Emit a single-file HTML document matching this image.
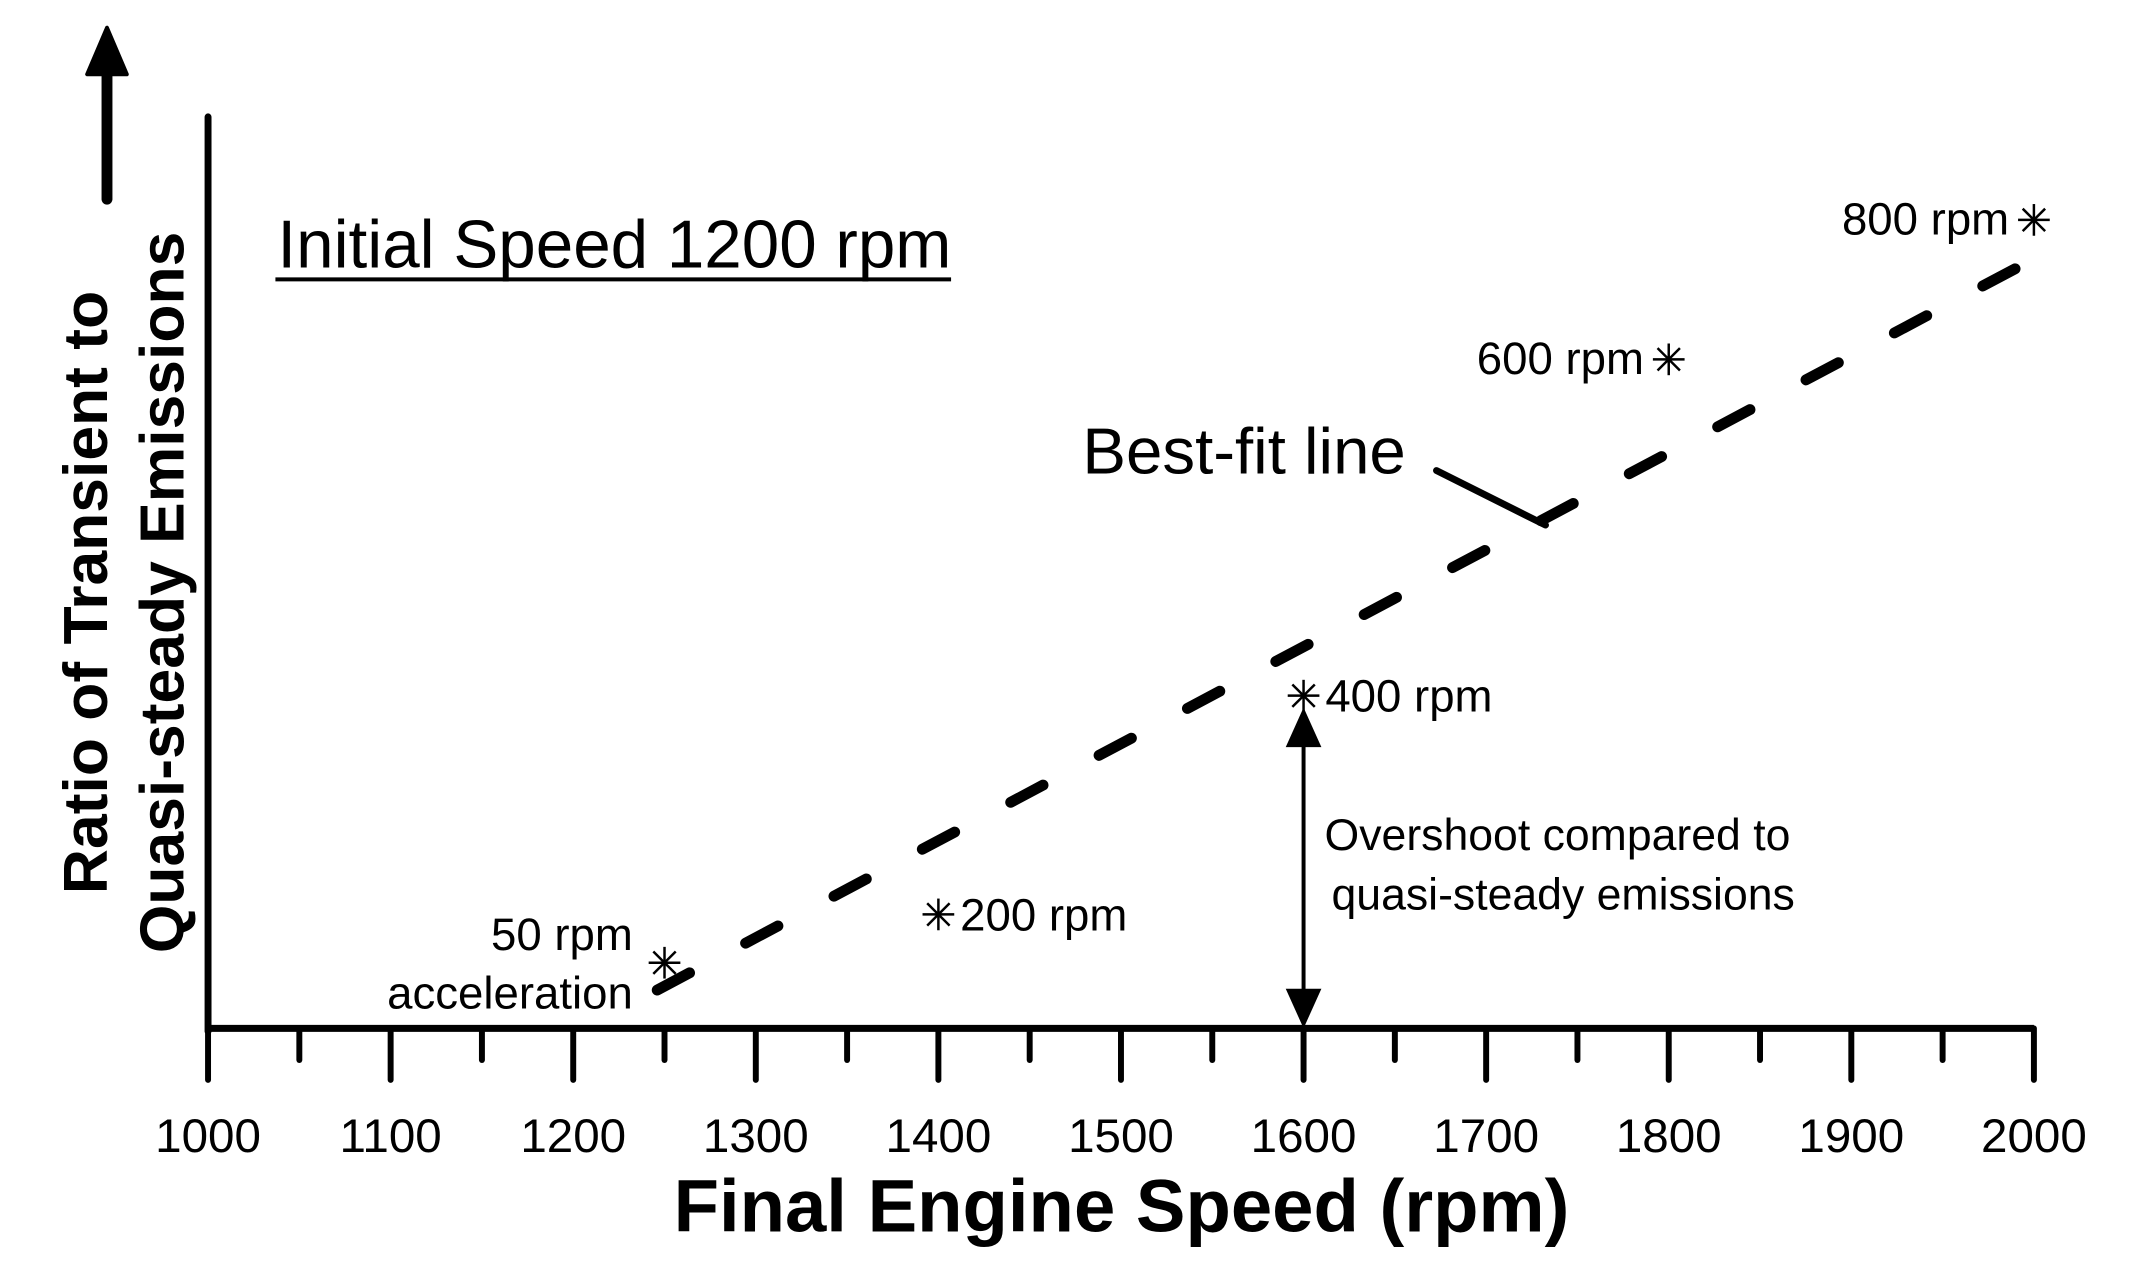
<!DOCTYPE html>
<html><head><meta charset="utf-8"><style>
html,body{margin:0;padding:0;background:#fff;}
svg{display:block;font-family:"Liberation Sans",Arial,sans-serif;}
</style></head><body>
<svg id="chart" width="2150" height="1282" viewBox="0 0 2150 1282" xmlns="http://www.w3.org/2000/svg">
<g transform="scale(0.9907)">
<g id="axes"></g>
<g id="marks"></g>
<g id="annots">
  <text x="280" y="270" font-size="68">Initial Speed 1200 rpm</text>
  <line x1="278" y1="282" x2="960" y2="282" stroke="#000" stroke-width="4"/>
  <line x1="108" y1="201" x2="108" y2="60" stroke="#000" stroke-width="11" stroke-linecap="round"/>
  <polygon points="108,28 88,75 128,75" fill="#000" stroke="#000" stroke-width="4" stroke-linejoin="round"/>
  <text transform="translate(108,598) rotate(-90)" text-anchor="middle" font-size="63" font-weight="bold">Ratio of Transient to</text>
  <text transform="translate(185,598) rotate(-90)" text-anchor="middle" font-size="63" font-weight="bold">Quasi-steady Emissions</text>
  <text x="1132" y="1243" text-anchor="middle" font-size="75" font-weight="bold">Final Engine Speed (rpm)</text>
  <text x="1419" y="478" text-anchor="end" font-size="66">Best-fit line</text>
  <line x1="1450" y1="475" x2="1560" y2="530" stroke="#000" stroke-width="7" stroke-linecap="round"/>
  <text x="1337" y="858" font-size="45">Overshoot compared to</text>
  <text x="1344" y="918" font-size="45">quasi-steady emissions</text>
</g>
</g>
<script>
const xTicks=[1000,1100,1200,1300,1400,1500,1600,1700,1800,1900,2000];
const minorTicks=[1050,1150,1250,1350,1450,1550,1650,1750,1850,1950];
const pointX=[1250,1400,1600,1800,2000];
const pointY=[0.72,1.25,3.65,7.34,8.87];
const pointLabels=["50 rpm","200 rpm","400 rpm","600 rpm","800 rpm"];
const fitX=[1246,1995];
const fitY=[0.42,8.39];
const overshootX=[1600];

const NS="http://www.w3.org/2000/svg";
const X0=210,X1=2053,Y0=1038,YT=118;
const xs=v=>X0+(v-1000)/1000*(X1-X0);
const ys=v=>Y0-v*92;
function mk(tag,attrs,parent){const e=document.createElementNS(NS,tag);for(const k in attrs)e.setAttribute(k,attrs[k]);parent.appendChild(e);return e;}
const axes=document.getElementById('axes'),marks=document.getElementById('marks');

let e=mk('line',{x1:X0,y1:YT,x2:X0,y2:Y0+3,stroke:'#000','stroke-width':7,'stroke-linecap':'round'},axes);


e=mk('line',{x1:X0-3,y1:Y0,x2:X1,y2:Y0,stroke:'#000','stroke-width':7},axes);


xTicks.forEach(t=>{
  const l=mk('line',{x1:xs(t),y1:Y0,x2:xs(t),y2:1090,stroke:'#000','stroke-width':6,'stroke-linecap':'round'},axes);
  
  
  const tx=mk('text',{x:xs(t),y:1163,'text-anchor':'middle','font-size':48},axes);
  tx.textContent=t;
  
  
});
minorTicks.forEach(t=>{
  const l=mk('line',{x1:xs(t),y1:Y0,x2:xs(t),y2:1070,stroke:'#000','stroke-width':6,'stroke-linecap':'round'},axes);
  
  
});

const fit=mk('line',{x1:xs(fitX[0]),y1:ys(fitY[0]),x2:xs(fitX[1]),y2:ys(fitY[1]),stroke:'#000','stroke-width':11,'stroke-linecap':'round','stroke-dasharray':'37 64','stroke-dashoffset':'0'},marks);



const labelPos=[
 {dx:-32,dy:-10,anchor:'end',lines:["50 rpm","acceleration"]},
 {dx:22,dy:16,anchor:'start'},
 {dx:22,dy:16,anchor:'start'},
 {dx:-25,dy:15,anchor:'end'},
 {dx:-25,dy:15,anchor:'end'}];
pointX.forEach((px,i)=>{
  const cx=xs(px),cy=ys(pointY[i]),r=16;
  const g=mk('g',{},marks);
  
  
  [0,45,90,135].forEach(a=>{const rad=a*Math.PI/180;
    mk('line',{x1:cx-r*Math.cos(rad),y1:cy-r*Math.sin(rad),x2:cx+r*Math.cos(rad),y2:cy+r*Math.sin(rad),stroke:'#000','stroke-width':2.5},g);});
  const p=labelPos[i];
  if(p.lines){
    const t1=mk('text',{x:cx+p.dx,y:cy-13,'text-anchor':'end','font-size':46},marks);
    t1.textContent=p.lines[0];
    
    
    const t2=mk('text',{x:cx+p.dx,y:cy+46,'text-anchor':'end','font-size':46},marks);
    t2.textContent=p.lines[1];
    
    
  } else {
    const t=mk('text',{x:cx+p.dx,y:cy+p.dy,'text-anchor':p.anchor,'font-size':46},marks);
    t.textContent=pointLabels[i];
    
    
  }
});

overshootX.forEach(v=>{
  const x=xs(v),top=ys(pointY[2])+12;
  const g=mk('g',{},marks);
  
  
  mk('line',{x1:x,y1:top+30,x2:x,y2:Y0-30,stroke:'#000','stroke-width':4},g);
  mk('polygon',{points:`${x},${top} ${x-18},${top+40} ${x+18},${top+40}`,fill:'#000'},g);
  mk('polygon',{points:`${x},${Y0} ${x-18},${Y0-40} ${x+18},${Y0-40}`,fill:'#000'},g);
});
</script>
</svg>
</body></html>
